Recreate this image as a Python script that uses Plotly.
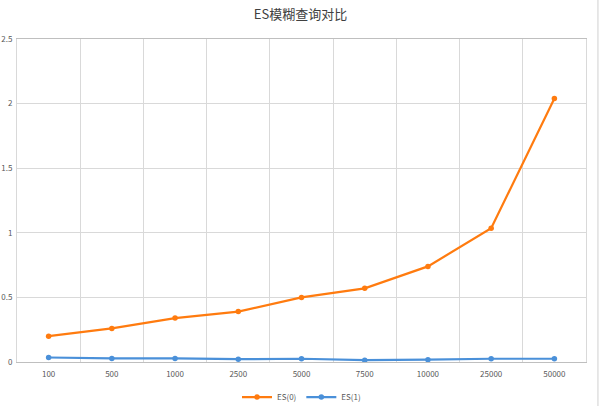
import plotly.graph_objects as go

categories = ["100", "500", "1000", "2500", "5000", "7500", "10000", "25000", "50000"]
es0 = [0.20, 0.26, 0.34, 0.39, 0.50, 0.57, 0.74, 1.035, 2.04]
es1 = [0.035, 0.028, 0.028, 0.022, 0.025, 0.014, 0.018, 0.025, 0.025]
y_ticks = [0, 0.5, 1, 1.5, 2, 2.5]
y_labels = ["0", "0.5", "1", "1.5", "2", "2.5"]

fig = go.Figure()
fig.add_trace(go.Scatter(x=categories, y=es0, name="ES(0)", mode="lines+markers",
                         line=dict(color="#ff7b0f", width=2.2), marker=dict(size=5.5, color="#ff7b0f")))
fig.add_trace(go.Scatter(x=categories, y=es1, name="ES(1)", mode="lines+markers",
                         line=dict(color="#4a90d9", width=2.2), marker=dict(size=5.5, color="#4a90d9")))

fig.update_layout(
    width=601, height=406, autosize=False,
    margin=dict(l=17, r=15, t=39, b=44, autoexpand=False),
    paper_bgcolor="white", plot_bgcolor="white",
    font=dict(family="Noto Sans CJK SC, Roboto, sans-serif", size=8, color="#595959"),
    title=dict(text="ES模糊查询对比", x=0.5, xanchor="center", yref="container",
               y=0.965, yanchor="middle", font=dict(size=13, color="#404040")),
    showlegend=True,
    legend=dict(orientation="h", x=0.5, xanchor="center", yref="container", y=0.022,
                yanchor="middle", font=dict(size=8, color="#595959"), itemwidth=30,
                tracegroupgap=0),
    xaxis=dict(type="category", tickson="boundaries", showgrid=True, gridcolor="#d9d9d9",
               ticks="", range=[-0.5, 8.5], showline=True, linecolor="#bfbfbf", mirror=True,
               tickfont=dict(size=8, color="#595959"), fixedrange=True, automargin=False,
               ticklabelstandoff=4),
    yaxis=dict(range=[0, 2.5], tickvals=y_ticks, ticktext=y_labels, showgrid=True,
               gridcolor="#d9d9d9", zeroline=False, showline=True, linecolor="#d9d9d9",
               mirror=True, ticks="", ticklabelstandoff=2, automargin=False,
               tickfont=dict(size=8, color="#595959"), fixedrange=True),
)
fig.add_shape(type="line", xref="paper", yref="paper", x0=1.021, x1=1.021, y0=-0.2, y1=1.2,
              line=dict(color="#d0d0d0", width=1))

fig.write_html("out.html", config={"displayModeBar": False},
               post_script="document.body.style.margin='0px';")
